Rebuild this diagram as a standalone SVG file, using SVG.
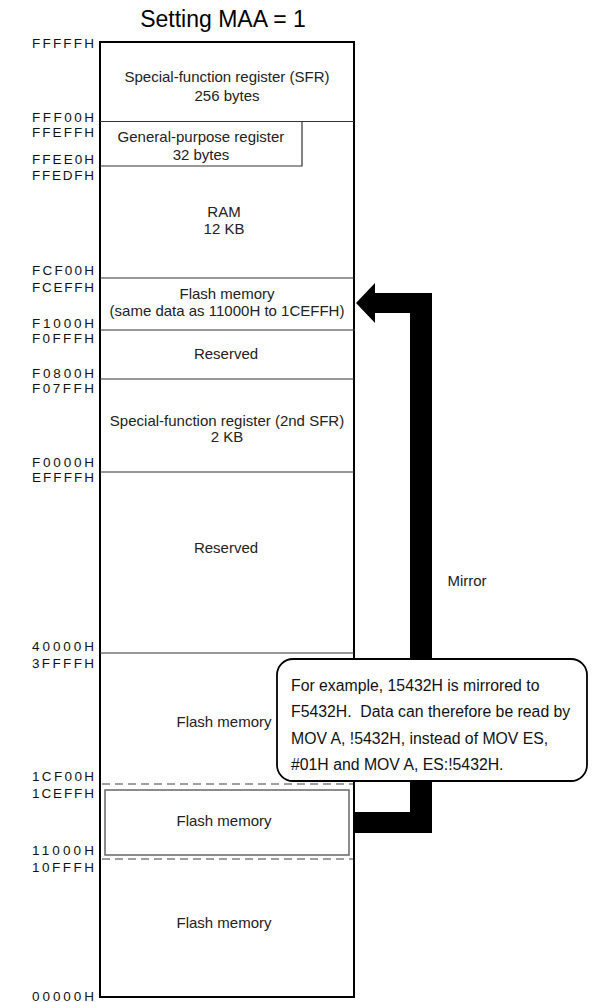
<svg xmlns="http://www.w3.org/2000/svg" width="594" height="1002" viewBox="0 0 594 1002">
<style>
.t{font-family:"Liberation Sans",Arial,sans-serif;font-size:15px;fill:#222;text-anchor:middle}
.a{font-family:"Liberation Sans",Arial,sans-serif;font-size:13.5px;fill:#111;text-anchor:end}
.c{font-family:"Liberation Sans",Arial,sans-serif;font-size:15.8px;fill:#111}
.edge{stroke:#000;stroke-width:2;fill:none}
.sep{stroke:#333;stroke-width:1.2;fill:none}
.dash{stroke:#808080;stroke-width:1.5;stroke-dasharray:8 5;fill:none}
</style>
<rect width="594" height="1002" fill="#fff"/>
<text x="223" y="27" font-family="Liberation Sans, Arial, sans-serif" font-size="23" text-anchor="middle" fill="#000">Setting MAA = 1</text>

<g id="memory-map">
<rect class="edge" x="100" y="42" width="254" height="955"/>
</g>

<g id="sfr">
<line class="sep" x1="100" y1="121.5" x2="354" y2="121.5"/>
<text class="t" x="227" y="82">Special-function register (SFR)</text>
<text class="t" x="227" y="101">256 bytes</text>
</g>
<g id="gpr">
<polyline class="sep" points="100,166 302,166 302,121.5"/>
<text class="t" x="201" y="142">General-purpose register</text>
<text class="t" x="201" y="160">32 bytes</text>
</g>
<g id="ram">
<line class="sep" x1="100" y1="278" x2="354" y2="278"/>
<text class="t" x="224" y="217">RAM</text>
<text class="t" x="224" y="234">12 KB</text>
</g>
<g id="flash-mirror">
<line class="sep" x1="100" y1="330" x2="355" y2="330"/>
<text class="t" x="227" y="299">Flash memory</text>
<text class="t" x="227" y="316">(same data as 11000H to 1CEFFH)</text>
</g>
<g id="reserved1">
<line class="sep" x1="100" y1="379" x2="354" y2="379"/>
<text class="t" x="226" y="359">Reserved</text>
</g>
<g id="sfr2">
<line class="sep" x1="100" y1="472" x2="354" y2="472"/>
<text class="t" x="227" y="426">Special-function register (2nd SFR)</text>
<text class="t" x="227" y="442">2 KB</text>
</g>
<g id="reserved2">
<line class="sep" x1="100" y1="653" x2="354" y2="653"/>
<text class="t" x="226" y="553">Reserved</text>
</g>
<g id="flash-upper">
<text class="t" x="224" y="727">Flash memory</text>
</g>
<g id="flash-mirrored-source">
<line class="dash" x1="102" y1="784" x2="353" y2="784"/>
<rect x="105" y="790" width="244" height="65" fill="none" stroke="#666" stroke-width="1.5"/>
<line class="dash" x1="102" y1="859" x2="353" y2="859"/>
<text class="t" x="224" y="826">Flash memory</text>
</g>
<g id="flash-lower">
<text class="t" x="224" y="928">Flash memory</text>
</g>

<g id="addresses">
<text class="a" x="94" y="47.5" textLength="62">FFFFFH</text>
<text class="a" x="94" y="121.5" textLength="62">FFF00H</text>
<text class="a" x="94" y="136.5" textLength="62">FFEFFH</text>
<text class="a" x="94" y="163.5" textLength="62">FFEE0H</text>
<text class="a" x="94" y="179.5" textLength="62">FFEDFH</text>
<text class="a" x="94" y="274.5" textLength="62">FCF00H</text>
<text class="a" x="94" y="291.5" textLength="62">FCEFFH</text>
<text class="a" x="94" y="327.5" textLength="62">F1000H</text>
<text class="a" x="94" y="342.5" textLength="62">F0FFFH</text>
<text class="a" x="94" y="377.5" textLength="62">F0800H</text>
<text class="a" x="94" y="392.5" textLength="62">F07FFH</text>
<text class="a" x="94" y="466.5" textLength="62">F0000H</text>
<text class="a" x="94" y="481.5" textLength="62">EFFFFH</text>
<text class="a" x="94" y="650.5" textLength="62">40000H</text>
<text class="a" x="94" y="667.5" textLength="62">3FFFFH</text>
<text class="a" x="94" y="781" textLength="62">1CF00H</text>
<text class="a" x="94" y="798" textLength="62">1CEFFH</text>
<text class="a" x="94" y="854.5" textLength="62">11000H</text>
<text class="a" x="94" y="871.5" textLength="62">10FFFH</text>
<text class="a" x="94" y="1000.5" textLength="62">00000H</text>
</g>

<g id="connectors">
<polygon points="356,303 375,283 375,293 432,293 432,833 355,833 355,812 410,812 410,313 375,313 375,323" fill="#000"/>
<text x="467" y="586" font-family="Liberation Sans, Arial, sans-serif" font-size="15" text-anchor="middle" fill="#222">Mirror</text>
</g>

<g id="callout">
<rect x="277" y="659" width="310" height="122" rx="16" ry="16" fill="#fff" stroke="#000" stroke-width="1.8"/>
<text class="c" x="291" y="690.5">For example, 15432H is mirrored to</text>
<text class="c" x="291" y="717">F5432H.&#160; Data can therefore be read by</text>
<text class="c" x="291" y="743.5">MOV A, !5432H, instead of MOV ES,</text>
<text class="c" x="291" y="770">#01H and MOV A, ES:!5432H.</text>
</g>
</svg>
